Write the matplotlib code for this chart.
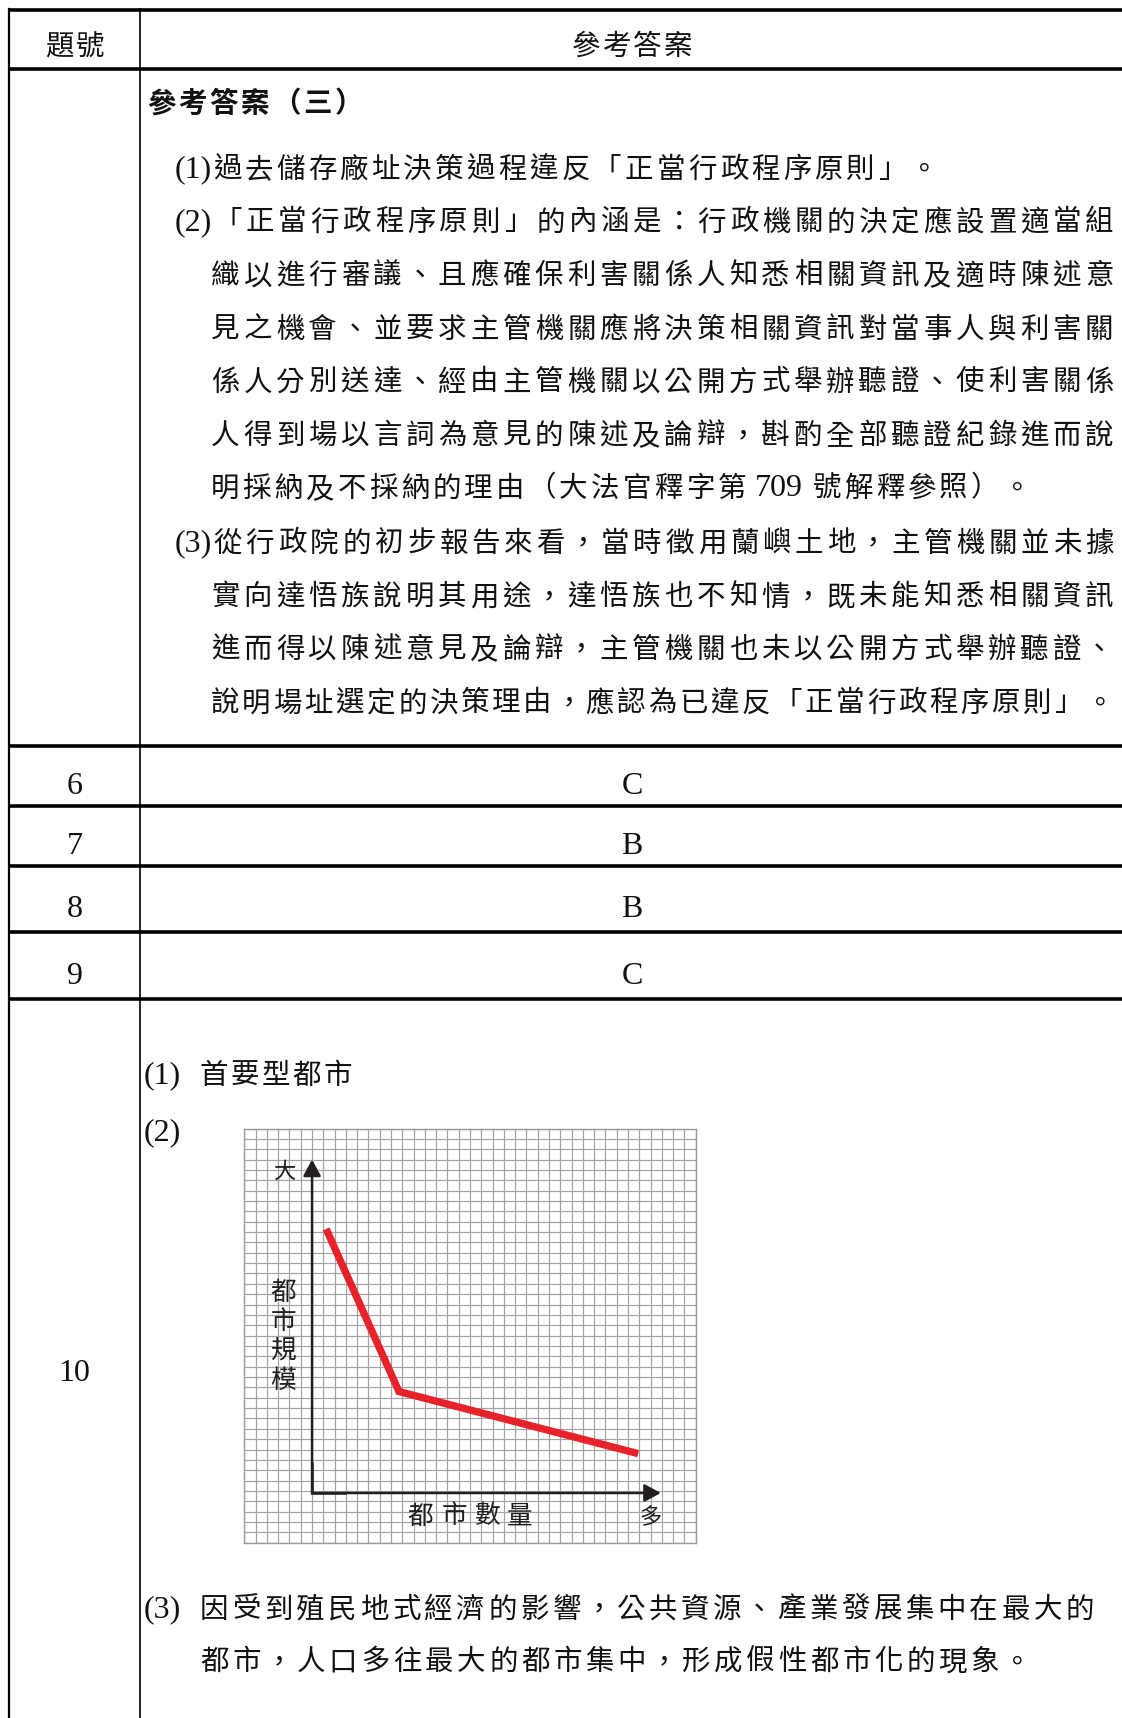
import matplotlib
matplotlib.use('Agg')
import matplotlib.pyplot as plt

# ---------------- data ----------------
header_no = "題號"
header_ans = "參考答案"

row5_title = "參考答案（三）"
row5_lines = [
    "(1)過去儲存廠址決策過程違反「正當行政程序原則」。",
    "(2)「正當行政程序原則」的內涵是：行政機關的決定應設置適當組",
    "織以進行審議、且應確保利害關係人知悉相關資訊及適時陳述意",
    "見之機會、並要求主管機關應將決策相關資訊對當事人與利害關",
    "係人分別送達、經由主管機關以公開方式舉辦聽證、使利害關係",
    "人得到場以言詞為意見的陳述及論辯，斟酌全部聽證紀錄進而說",
    "明採納及不採納的理由（大法官釋字第 709 號解釋參照）。",
    "(3)從行政院的初步報告來看，當時徵用蘭嶼土地，主管機關並未據",
    "實向達悟族說明其用途，達悟族也不知情，既未能知悉相關資訊",
    "進而得以陳述意見及論辯，主管機關也未以公開方式舉辦聽證、",
    "說明場址選定的決策理由，應認為已違反「正當行政程序原則」。",
]
row5_justified = [False, True, True, True, True, True, False, True, True, True, True]

mc_numbers = ["6", "7", "8", "9"]
mc_answers = ["C", "B", "B", "C"]

q10_number = "10"
q10_part1_tag, q10_part1 = "(1)", "首要型都市"
q10_part2_tag = "(2)"
q10_part3_tag = "(3)"
q10_part3 = ["因受到殖民地式經濟的影響，公共資源、產業發展集中在最大的",
             "都市，人口多往最大的都市集中，形成假性都市化的現象。"]

# chart (grid units, 40 x 40 grid)
city_x = [7.25, 13.7, 34.9]
city_y = [30.3, 14.6, 8.6]
axis_origin = (6.0, 4.8)
axis_end = (36.9, 37.0)
y_label = "都市規模"
x_label = "都市數量"
y_top_label = "大"
x_end_label = "多"

# ---------------- layout ----------------
W, H = 1122, 1718
S = W / 1024.0
fig = plt.figure(figsize=(W / 100, H / 100), dpi=100)
ax = fig.add_axes([0, 0, 1, 1])
ax.set_xlim(0, 1024)
ax.set_ylim(1568, 0)
ax.axis('off')
renderer = fig.canvas.get_renderer()

CJK = ['Noto Sans CJK TC', 'DejaVu Sans']
LAT = ['Liberation Serif', 'DejaVu Serif']
CJK_SIZE = 20.5
LAT_SIZE = 23
INK = '#111111'


def em(size):
    return size * 100 / 72 / S


def lat_width(t, size):
    tx = ax.text(0, 0, t, fontsize=size, family=LAT)
    w = tx.get_window_extent(renderer).width / S
    tx.remove()
    return w


def split_runs(s):
    runs = []
    for c in s:
        a = ord(c) < 128
        if runs and runs[-1][0] == a:
            runs[-1][1] += c
        else:
            runs.append([a, c])
    return runs


def draw_line(s, x0, yc, pitch=28.3, x1=None, size=CJK_SIZE, weight='normal',
              lsize=LAT_SIZE, sp=7.0):
    runs = split_runs(s)
    n_cjk = sum(len(t) for a, t in runs if not a)
    widths = []
    for a, t in runs:
        if a:
            core = t.strip()
            w = (lat_width(core, lsize) if core else 0) + sp * (len(t) - len(t.lstrip())) \
                + sp * (len(t) - len(t.rstrip()) if core else 0)
            widths.append(w)
        else:
            widths.append(None)
    aw = sum(w for w in widths if w is not None)
    p = (x1 - x0 - aw) / n_cjk if (x1 is not None and n_cjk) else pitch
    base_c = yc + 0.36 * em(size)
    base_l = yc + 0.31 * em(lsize)
    x = x0
    for (a, t), w in zip(runs, widths):
        if a:
            lead = len(t) - len(t.lstrip())
            x += sp * lead
            core = t.strip()
            if core:
                ax.text(x, base_l, core, family=LAT, fontsize=lsize, va='baseline',
                        ha='left', color=INK)
                x += lat_width(core, lsize)
                x += sp * (len(t) - len(t.rstrip()))
        else:
            for c in t:
                ax.text(x + p / 2, base_c, c, family=CJK, fontsize=size, weight=weight,
                        va='baseline', ha='center', color=INK)
                x += p


# table rules
hlines = [9, 63, 681, 736, 790, 851, 912]
for y in hlines:
    ax.plot([8, 1024], [y, y], color='black', lw=2.6, solid_capstyle='butt')
ax.plot([8, 8], [8, 1568], color='black', lw=1.6)
ax.plot([128, 128], [8, 1568], color='black', lw=1.2)

# header
draw_line(header_no, 68 - 28, 41, pitch=28)
draw_line(header_ans, 577 - 56, 41, pitch=28)

# row with answer text
draw_line(row5_title, 133, 93, pitch=28.5, weight='bold')
row5_y = [153, 201, 250, 299, 347, 396, 444, 494, 543, 591, 640]
for s, yy, j in zip(row5_lines, row5_y, row5_justified):
    x0 = 159 if s.startswith('(') else 191
    draw_line(s, x0, yy, pitch=28.9, x1=1018 if j else None)

# multiple-choice rows
mc_y = [716, 770, 828, 889]
for n, a, yy in zip(mc_numbers, mc_answers, mc_y):
    b = yy + 0.31 * em(LAT_SIZE)
    ax.text(68, b, n, family=LAT, fontsize=LAT_SIZE, ha='center', va='baseline', color=INK)
    ax.text(577, b, a, family=LAT, fontsize=LAT_SIZE, ha='center', va='baseline', color=INK)

# question 10
ax.text(68, 1251 + 0.31 * em(LAT_SIZE), q10_number, family=LAT, fontsize=LAT_SIZE,
        ha='center', va='baseline', color=INK)
ax.text(131, 980 + 0.31 * em(LAT_SIZE), q10_part1_tag, family=LAT, fontsize=LAT_SIZE,
        ha='left', va='baseline', color=INK)
draw_line(q10_part1, 181, 980, pitch=28.2)
ax.text(131, 1032 + 0.31 * em(LAT_SIZE), q10_part2_tag, family=LAT, fontsize=LAT_SIZE,
        ha='left', va='baseline', color=INK)
ax.text(131, 1467 + 0.31 * em(LAT_SIZE), q10_part3_tag, family=LAT, fontsize=LAT_SIZE,
        ha='left', va='baseline', color=INK)
draw_line(q10_part3[0], 181, 1467, x1=1000)
draw_line(q10_part3[1], 181, 1515, pitch=29.3)

# ---------------- chart ----------------
gl, gr, gt, gb = 223, 635, 1030, 1408
ax2 = fig.add_axes([gl / 1024, 1 - gb / 1568, (gr - gl) / 1024, (gb - gt) / 1568])
ax2.set_xlim(0, 40)
ax2.set_ylim(0, 40)
ax2.set_xticks(range(41))
ax2.set_yticks(range(41))
ax2.tick_params(length=0, labelbottom=False, labelleft=False)
ax2.grid(True, color='#a3a3a3', lw=0.85)
for sp_ in ax2.spines.values():
    sp_.set_color('#9a9a9a')
    sp_.set_linewidth(1.0)

AX_C = '#231f20'
ox, oy = axis_origin
ax2.plot([ox, ox, ox + 3], [oy + 3, oy, oy], color=AX_C, lw=1.8,
         solid_joinstyle='miter', solid_capstyle='butt', zorder=3)
astyle = dict(arrowstyle='-|>,head_length=0.55,head_width=0.3', color=AX_C, lw=1.8,
              mutation_scale=18, shrinkA=0, shrinkB=0)
ax2.annotate('', xy=(ox, axis_end[1]), xytext=(ox, oy), arrowprops=astyle, zorder=3)
ax2.annotate('', xy=(axis_end[0], oy), xytext=(ox, oy), arrowprops=astyle, zorder=3)

ax2.plot(city_x, city_y, color='#e8222b', lw=5.3, solid_joinstyle='miter',
         solid_capstyle='butt', zorder=4)

LBL = '#231f20'
ax2.text(259.5, 1069, y_top_label, transform=ax.transData, family=CJK, fontsize=16,
         ha='center', va='center', color=LBL)
for c, yy in zip(y_label, [1180, 1207, 1234, 1260]):
    ax2.text(258.6, yy, c, transform=ax.transData, family=CJK, fontsize=18.5,
             ha='center', va='center', color=LBL)
for c, xx in zip(x_label, [384, 415, 444, 474]):
    ax2.text(xx, 1384, c, transform=ax.transData, family=CJK, fontsize=18.5,
             ha='center', va='center', color=LBL)
ax2.text(594, 1385, x_end_label, transform=ax.transData, family=CJK, fontsize=16,
         ha='center', va='center', color=LBL)

fig.savefig('out.png', dpi=100)
